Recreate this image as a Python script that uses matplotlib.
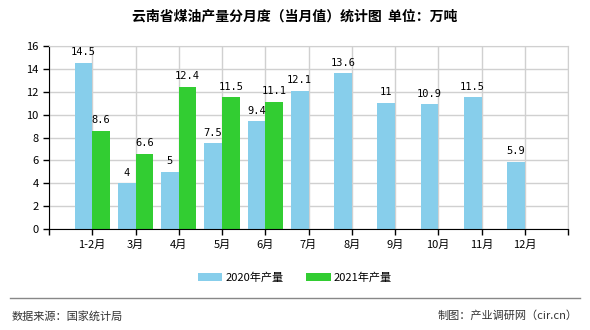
import numpy as np
import matplotlib.pyplot as plt

plt.rcParams['font.family'] = ['Noto Sans CJK SC', 'DejaVu Sans']

# data
months = ['1-2月', '3月', '4月', '5月', '6月', '7月', '8月', '9月', '10月', '11月', '12月']
prod_2020 = [14.5, 4, 5, 7.5, 9.4, 12.1, 13.6, 11, 10.9, 11.5, 5.9]
prod_2021 = [8.6, 6.6, 12.4, 11.5, 11.1]
labels_2020 = ['14.5', '4', '5', '7.5', '9.4', '12.1', '13.6', '11', '10.9', '11.5', '5.9']
labels_2021 = ['8.6', '6.6', '12.4', '11.5', '11.1']

blue = '#87CEEB'
green = '#32CD32'

fig = plt.figure(figsize=(5.9, 3.3), dpi=100)
ax = fig.add_axes([49/590, 1 - 229/330, (568 - 49)/590, (229 - 46)/330])

x = np.arange(len(months))
x21 = np.arange(len(prod_2021))
w = 0.41

b1 = ax.bar(x - w/2, prod_2020, width=w, color=blue, zorder=2, label='2020年产量')
b2 = ax.bar(x21 + w/2, prod_2021, width=w, color=green, zorder=2, label='2021年产量')

for xi, v, s in zip(x, prod_2020, labels_2020):
    ax.text(xi - w/2, v + 0.5, s, ha='center', va='bottom', fontsize=7.5,
            family='DejaVu Sans Mono')
for xi, v, s in zip(x21, prod_2021, labels_2021):
    ax.text(xi + w/2, v + 0.5, s, ha='center', va='bottom', fontsize=7.5,
            family='DejaVu Sans Mono')

ax.set_xlim(-1, len(months))
ax.set_ylim(0, 16)
ax.set_yticks(np.arange(0, 17, 2))
ax.set_xticks(np.arange(-1, len(months) + 1))
ax.set_xticklabels([''] + months + [''])
ax.tick_params(axis='both', labelsize=8, length=4, width=1, direction='out', color='black')
ax.grid(True, color='#d0d0d0', linewidth=1, zorder=0)
ax.set_axisbelow(True)

for side in ['top', 'right']:
    ax.spines[side].set_color('#d0d0d0')
ax.spines['left'].set_color('black')
ax.spines['bottom'].set_color('black')

fig.text(0.5, 1 - 17/330, '云南省煤油产量分月度（当月值）统计图  单位：万吨',
         ha='center', va='center', fontsize=10, fontweight='bold')

fig.legend(handles=[b1, b2], loc='center', bbox_to_anchor=(0.5, 1 - 278/330),
           ncol=2, frameon=False, fontsize=8, handlelength=2.2, handleheight=0.7,
           columnspacing=2.0, handletextpad=0.3)

fig.add_artist(plt.Line2D([10/590, 580/590], [1 - 298/330, 1 - 298/330],
                          color='#888888', linewidth=1))
fig.text(12/590, 1 - 316/330, '数据来源：国家统计局', ha='left', va='center', fontsize=8, color='#333333')
fig.text(578/590, 1 - 316/330, '制图：产业调研网（cir.cn）', ha='right', va='center', fontsize=8, color='#333333')

plt.savefig('out.png', dpi=100)
